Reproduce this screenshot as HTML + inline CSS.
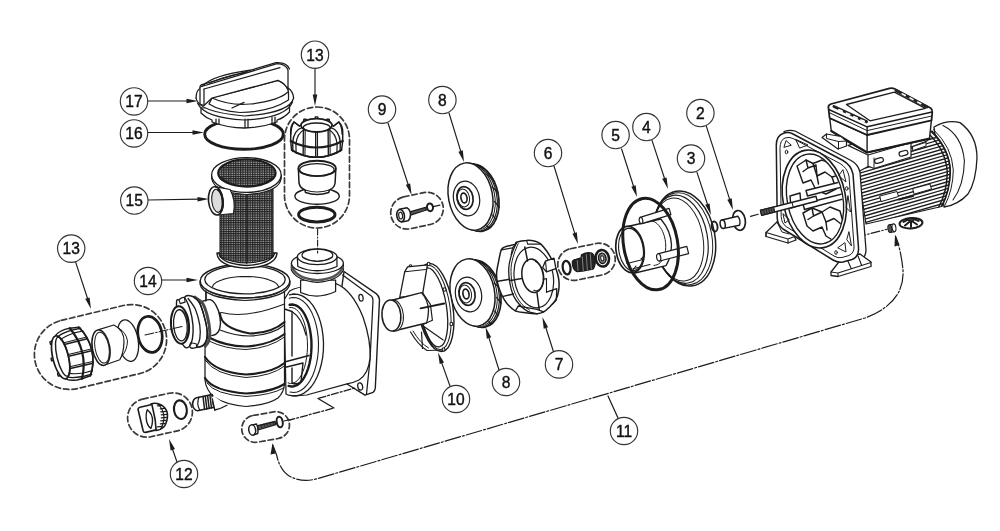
<!DOCTYPE html>
<html><head><meta charset="utf-8"><title>Pump exploded view</title>
<style>
html,body{margin:0;padding:0;background:#fff;}
body{width:1000px;height:531px;overflow:hidden;font-family:"Liberation Sans",sans-serif;}
svg{display:block;}
text{font-family:"Liberation Sans",sans-serif;}
svg{filter:grayscale(1);}
</style></head><body>
<svg width="1000" height="531" viewBox="0 0 1000 531" stroke-linecap="round" stroke-linejoin="round">
<defs>
<pattern id="mesh" width="2.4" height="2.2" patternUnits="userSpaceOnUse">
<rect width="2.4" height="2.2" fill="#b0b0b0"/>
<path d="M0 0.5H2.4M0.6 0V2.2" stroke="#222" stroke-width="1.1"/>
</pattern>
</defs>
<rect width="1000" height="531" fill="#fff"/>
<path d="M344 271.5 L376.2 293.6 Q378.8 295.5 379.5 299.5 L375.3 388 Q375 391 373 392.3 L365 395.2 L347 384 L340 300 Z" fill="#fff" stroke="#1c1c1c" stroke-width="1.4" />
<path d="M342.6 275 L371.6 296.2 Q373 297.6 373 301 L370 360 L366.5 393.8" fill="none" stroke="#1c1c1c" stroke-width="1.25" />
<ellipse cx="361" cy="297.7" rx="2.1" ry="3.4" transform="rotate(-10 361 297.7)" fill="none" stroke="#1c1c1c" stroke-width="1.25" />
<path d="M289.6 291 Q300 285 318 287 L336 283.7 Q352 290 363 317 Q371 340 370 358 Q368.5 374 359 380 Q353 383 347 383.8 L306.7 395 Q290 397 286 394 L284 300 Z" fill="#fff" stroke="#1c1c1c" stroke-width="1.25" />
<path d="M289.5 294.8 L293.6 294.0 L297.7 294.3 L301.7 295.6 L305.6 297.9 L309.3 301.1 L312.7 305.2 L315.7 310.1 L318.3 315.7 L320.4 321.9 L322.0 328.6 L323.0 335.6 L323.5 342.8 L323.4 350.0 L322.7 357.1 L321.4 364.0 L319.6 370.5 L317.3 376.5 L314.6 381.8 L311.4 386.5 L307.9 390.2 L304.1 393.1 L300.2 395.0 L296.1 395.9 L292.0 395.8 " fill="none" stroke="#1c1c1c" stroke-width="1.3" />
<path d="M289.2 298.2 L292.7 297.5 L296.3 297.8 L299.9 299.1 L303.3 301.3 L306.5 304.4 L309.4 308.3 L312.0 313.1 L314.2 318.4 L316.0 324.4 L317.3 330.7 L318.2 337.4 L318.5 344.2 L318.3 351.0 L317.6 357.7 L316.4 364.1 L314.7 370.2 L312.6 375.7 L310.1 380.6 L307.2 384.7 L304.1 388.0 L300.7 390.5 L297.2 392.0 L293.6 392.5 L290.0 392.0 " fill="none" stroke="#1c1c1c" stroke-width="1.1" />
<path d="M289.6 304.8 L292.4 304.5 L295.2 305.1 L297.9 306.4 L300.5 308.6 L302.9 311.5 L305.1 315.2 L307.0 319.4 L308.7 324.2 L309.9 329.4 L310.8 334.9 L311.4 340.7 L311.5 346.6 L311.2 352.4 L310.6 358.1 L309.5 363.6 L308.1 368.6 L306.4 373.2 L304.3 377.3 L302.1 380.6 L299.6 383.3 L296.9 385.2 L294.2 386.2 L291.4 386.5 L288.6 385.9 " fill="none" stroke="#1c1c1c" stroke-width="2.4" />
<path d="M289.6 307.6 L291.9 307.6 L294.2 308.2 L296.5 309.7 L298.6 311.8 L300.6 314.6 L302.4 318.1 L304.0 322.0 L305.3 326.5 L306.3 331.3 L307.0 336.5 L307.4 341.8 L307.5 347.2 L307.2 352.5 L306.6 357.7 L305.7 362.7 L304.5 367.3 L303.0 371.5 L301.3 375.1 L299.4 378.2 L297.3 380.6 L295.1 382.3 L292.8 383.3 L290.5 383.5 L288.1 382.9 " fill="none" stroke="#1c1c1c" stroke-width="1.0" />
<path d="M284.5 309 L292 311.5 L292 356 M284.5 362 L309 355.5 M284.5 367.5 L303 363 M292 368 L292 383 Q296 385 301 382 L303 363" fill="none" stroke="#1c1c1c" stroke-width="1.4" />
<path d="M292 311.5 Q302 318 306 335" fill="none" stroke="#1c1c1c" stroke-width="1.25" />
<ellipse cx="360.2" cy="386.5" rx="2.4" ry="3.7" transform="rotate(-12 360.2 386.5)" fill="none" stroke="#1c1c1c" stroke-width="1.3" />
<path d="M318 398.5 L334 408" fill="none" stroke="#1c1c1c" stroke-width="1.4" />
<path d="M288 420.5 L334 408 M319 398.2 L356 387.7" fill="none" stroke="#1c1c1c" stroke-width="1.3" stroke-dasharray="7 2 2 2"/>
<path d="M300.6 280 L300.6 292.5 Q317 300 335.6 291.5 L335.6 280 Z" fill="#fff" stroke="#1c1c1c" stroke-width="1.25" />
<path d="M291.4 263.5 L291.4 270 Q297 281 317.4 282.3 Q338 281 343.4 270 L343.4 263.5 Z" fill="#fff" stroke="#1c1c1c" stroke-width="1.25" />
<path d="M292 267.5 Q298 279 317.4 280.2 Q337 279 342.8 267.5" fill="none" stroke="#555" stroke-width="2.6" />
<ellipse cx="317.4" cy="263.3" rx="26" ry="10.2" fill="#fff" stroke="#1c1c1c" stroke-width="1.3" />
<path d="M297.3 257 L297.8 267 Q317 274 337 267 L336.9 257 Z" fill="#fff" stroke="none" stroke-width="1.25" />
<path d="M297.3 257 L297.8 266.5 Q317 275 337 266.5 L336.9 257" fill="none" stroke="#1c1c1c" stroke-width="1.25" />
<ellipse cx="317.2" cy="256.8" rx="19.8" ry="7.8" fill="#fff" stroke="#1c1c1c" stroke-width="1.3" />
<ellipse cx="317.4" cy="255.2" rx="15.4" ry="6.1" fill="#fff" stroke="#1c1c1c" stroke-width="1.2" />
<path d="M302.5 257 Q317 266 332.5 257" fill="none" stroke="#1c1c1c" stroke-width="1" />
<path d="M206 286 L206 330 Q205 340 205 358 L205 380 Q206 390 214 397 Q225 404.5 246 406.5 Q268 405 278 398 Q284 392 284.5 384 L284.5 286 Z" fill="#fff" stroke="#1c1c1c" stroke-width="1.25" />
<path d="M221.5 312.5 Q246 319 284.5 304" fill="none" stroke="#1c1c1c" stroke-width="1.1" />
<path d="M220 313 Q220 328 250 333.5 Q272 333 284.5 322" fill="none" stroke="#1c1c1c" stroke-width="2.1" />
<path d="M220 330 Q235 336 250 336 Q272 335 284.5 325" fill="none" stroke="#1c1c1c" stroke-width="1.2" />
<path d="M210 338 Q225 346 246 346.5 Q270 345 284.5 334" fill="none" stroke="#1c1c1c" stroke-width="2.1" />
<path d="M209 341 Q225 349 246 349.5 Q270 348 284.5 337" fill="none" stroke="#1c1c1c" stroke-width="1.0" />
<path d="M205 357 Q215 372 246 374.5 Q272 373 284.5 363" fill="none" stroke="#1c1c1c" stroke-width="2.2" />
<path d="M205 360 Q215 375 246 377.5 Q272 376 284.5 366" fill="none" stroke="#1c1c1c" stroke-width="1.0" />
<path d="M205 378 Q213 391 246 393.5 Q272 392 284.5 384" fill="none" stroke="#1c1c1c" stroke-width="2.2" />
<path d="M207 383 Q215 394.5 246 396.5 Q272 395 283.5 388" fill="none" stroke="#1c1c1c" stroke-width="1.0" />
<path d="M200 281 L200 284 Q203 298 245 300.5 Q287 298 290 284 L290 281 Z" fill="#fff" stroke="#1c1c1c" stroke-width="1.2" />
<ellipse cx="245" cy="281" rx="44.8" ry="17" fill="#fff" stroke="#1c1c1c" stroke-width="1.4" />
<ellipse cx="245" cy="279.6" rx="40.2" ry="14.2" fill="none" stroke="#1c1c1c" stroke-width="1.3" />
<path d="M212.6 286.5 L213.2 285.2 L214.3 283.9 L215.9 282.6 L217.9 281.5 L220.4 280.4 L223.2 279.4 L226.4 278.5 L229.8 277.8 L233.5 277.2 L237.4 276.8 L241.4 276.6 L245.5 276.5 L249.6 276.6 L253.6 276.8 L257.5 277.2 L261.2 277.8 L264.6 278.5 L267.8 279.4 L270.6 280.4 L273.1 281.5 L275.1 282.6 L276.7 283.9 L277.8 285.2 L278.4 286.5 " fill="none" stroke="#1c1c1c" stroke-width="1.1" />
<path d="M206 289 Q212 296.5 245 298 Q278 296.5 284 289" fill="none" stroke="#1c1c1c" stroke-width="1.0" />
<path d="M202.2 301.5 C203.5 301.2 207.8 299.0 210.2 299.7 C212.5 300.4 214.6 302.9 216.3 305.8 C217.9 308.6 219.3 313.1 219.9 316.8 C220.6 320.5 220.6 325.0 219.9 327.8 C219.3 330.7 217.9 332.5 216.3 333.9 C214.6 335.3 211.8 335.3 210.2 336.1 C208.5 336.9 207.1 338.4 206.5 338.8  L200 340 L200 303 Z" fill="#fff" stroke="#1c1c1c" stroke-width="1.4" />
<path d="M184.5 297.8 C185.9 293.7 190.6 295.9 193.0 296.6 C195.5 297.3 197.3 299.0 199.1 302.1 C201.0 305.3 202.7 310.9 204.0 315.6 C205.4 320.3 206.7 326.2 207.1 330.3 C207.5 334.3 207.2 337.5 206.5 340.0 C205.8 342.6 204.4 344.3 202.8 345.6 C201.2 346.8 198.9 347.3 196.7 347.4 C194.5 347.5 191.4 350.4 189.4 346.2 C187.3 341.9 185.3 329.8 184.5 321.7 C183.6 313.6 183.0 302.0 184.5 297.8 Z" fill="#fff" stroke="#1c1c1c" stroke-width="1.4" />
<path d="M194.9 297.2 C196.1 298.3 200.5 300.1 202.6 303.3 C204.7 306.6 206.3 312.1 207.5 316.8 C208.7 321.5 209.6 327.4 209.8 331.5 C210.0 335.6 209.3 338.8 208.6 341.3 C207.8 343.7 205.8 345.3 205.3 346.2 " fill="none" stroke="#4a4a4a" stroke-width="3.0" />
<path d="M193.0 296.6 C194.0 297.5 197.3 299.0 199.1 302.1 C201.0 305.3 202.7 310.9 204.0 315.6 C205.4 320.3 206.7 326.2 207.1 330.3 C207.5 334.3 207.2 337.5 206.5 340.0 C205.8 342.6 204.4 344.3 202.8 345.6 C201.2 346.8 197.7 347.1 196.7 347.4 " fill="none" stroke="#1c1c1c" stroke-width="1.4" />
<path d="M188.1 298.5 C189.4 300.3 193.5 305.0 195.5 309.5 C197.4 314.0 199.0 320.5 199.8 325.4 C200.5 330.3 200.3 335.3 199.8 338.8 C199.2 342.4 197.2 345.4 196.7 346.8 " fill="none" stroke="#1c1c1c" stroke-width="1.3" />
<path d="M176.5 303.3 C176.6 297.6 177.6 300.6 179.0 299.7 C180.3 298.8 182.6 296.2 184.5 297.8 C186.3 299.5 188.5 304.9 190.0 309.5 C191.4 314.1 192.6 320.5 193.0 325.4 C193.4 330.3 193.0 335.4 192.4 338.8 C191.8 342.3 190.7 344.8 189.4 346.2 C188.0 347.5 186.3 348.8 184.5 346.8 C182.6 344.7 179.7 341.2 178.3 333.9 C177.0 326.7 176.4 309.1 176.5 303.3 Z" fill="#fff" stroke="#1c1c1c" stroke-width="1.4" />
<path d="M179.0 299.7 L180.2 303.6 L185.1 302.1 L184.5 297.8 " fill="none" stroke="#1c1c1c" stroke-width="1.1" />
<path d="M189.4 346.2 L190.6 342.7 L196.1 343.7 L196.7 347.4 " fill="none" stroke="#1c1c1c" stroke-width="1.1" />
<ellipse cx="180" cy="325" rx="9" ry="18.7" transform="rotate(-5 180 325)" fill="#fff" stroke="#1c1c1c" stroke-width="2.0" />
<ellipse cx="180.4" cy="325.3" rx="6.8" ry="15.6" transform="rotate(-5 180.4 325.3)" fill="none" stroke="#1c1c1c" stroke-width="1.3" />
<path d="M181.2 310.4 L181.9 310.5 L182.6 310.9 L183.2 311.3 L183.9 312.0 L184.5 312.8 L185.1 313.7 L185.7 314.8 L186.2 315.9 L186.6 317.2 L187.1 318.6 L187.4 320.0 L187.7 321.5 L188.0 323.1 L188.2 324.7 L188.3 326.2 L188.3 327.8 L188.3 329.3 L188.2 330.8 L188.0 332.3 L187.8 333.6 L187.5 334.9 L187.1 336.0 L186.7 337.1 L186.2 338.0 " fill="none" stroke="#1c1c1c" stroke-width="1.0" />
<line x1="205.9" y1="291" x2="205.9" y2="301" stroke="#1c1c1c" stroke-width="1.3" />
<path d="M196.5 397.8 L212 394.5 L214 407.3 L197.5 410.7 Q193.3 410 192.6 404.5 Q192.8 398.8 196.5 397.8 Z" fill="#fff" stroke="#1c1c1c" stroke-width="1.6" />
<path d="M199 397.3 Q196.2 403.5 199.8 410.2" fill="none" stroke="#1c1c1c" stroke-width="1.2" />
<line x1="203" y1="396.6" x2="204.6" y2="409.5" stroke="#1c1c1c" stroke-width="1.5" />
<line x1="205.3" y1="396.14000000000004" x2="206.9" y2="409.04" stroke="#1c1c1c" stroke-width="1.5" />
<line x1="207.6" y1="395.68" x2="209.2" y2="408.58" stroke="#1c1c1c" stroke-width="1.5" />
<line x1="209.9" y1="395.22" x2="211.5" y2="408.12" stroke="#1c1c1c" stroke-width="1.5" />
<line x1="212.2" y1="394.76000000000005" x2="213.79999999999998" y2="407.66" stroke="#1c1c1c" stroke-width="1.5" />
<path d="M212 397 L214.8 410 Q220 409 226 405 L214 396 Z" fill="#fff" stroke="none" stroke-width="1.25" />
<path d="M214.8 410 Q221 408.5 227 405.2" fill="none" stroke="#1c1c1c" stroke-width="1.3" />
<path d="M212.3 399 L214.8 410" fill="none" stroke="#1c1c1c" stroke-width="1.3" />
<line x1="145" y1="335" x2="182" y2="326.5" stroke="#1c1c1c" stroke-width="1.1" stroke-dasharray="9 2 1.5 2"/>
<ellipse cx="244" cy="134.3" rx="39.3" ry="15" fill="none" stroke="#1c1c1c" stroke-width="2.9" />
<path d="M201 108 L201 113 Q206 118 212 120 L212 122 Q244 134 277 122 L277 120 Q284 118 289.5 112 L289.5 105 Z" fill="#fff" stroke="#1c1c1c" stroke-width="1.25" />
<line x1="216" y1="119" x2="216" y2="124" stroke="#1c1c1c" stroke-width="1.25" />
<line x1="219" y1="119" x2="219" y2="124" stroke="#1c1c1c" stroke-width="1.25" />
<line x1="245" y1="119" x2="245" y2="127.5" stroke="#1c1c1c" stroke-width="1.25" />
<line x1="248" y1="119" x2="248" y2="127.5" stroke="#1c1c1c" stroke-width="1.25" />
<line x1="272" y1="117" x2="272" y2="124" stroke="#1c1c1c" stroke-width="1.25" />
<line x1="275" y1="117" x2="275" y2="124" stroke="#1c1c1c" stroke-width="1.25" />
<path d="M196 98 Q196 90 201 88 L201 100 M293.6 98 Q293 91 288 88" fill="none" stroke="#1c1c1c" stroke-width="1.25" />
<path d="M196 98 Q198 112 244.5 116 Q290 113 293.6 98" fill="#fff" stroke="#1c1c1c" stroke-width="1.25" />
<path d="M197.5 103 Q204 118 244.5 120 Q286 118 292.5 102" fill="none" stroke="#1c1c1c" stroke-width="1.25" />
<path d="M209 104 Q212 98 212 98 L278 80.4 Q288 84 288.5 92 L288.5 100 Q270 112 240 112.5 Q220 111 209 104 Z" fill="#fff" stroke="#1c1c1c" stroke-width="1.25" />
<path d="M212 98 Q230 106 250 104 Q278 101 288 92" fill="none" stroke="#1c1c1c" stroke-width="1.25" />
<path d="M232 108 L244 102.4" fill="none" stroke="#1c1c1c" stroke-width="1.25" />
<path d="M202.5 86 Q212 75.5 250 70.2" fill="none" stroke="#1c1c1c" stroke-width="1.2" />
<path d="M205.5 86.5 Q215 77.5 246 72.5" fill="none" stroke="#1c1c1c" stroke-width="1.0" />
<path d="M200 87 L200 104 L204 105.5 L212 98 L278 80.4 Q286 84 288 90 L288 70 Q286 64 277 63.6 Z" fill="#fff" stroke="#1c1c1c" stroke-width="1.25" />
<path d="M202 84.6 L276 62.6 Q287 62 289.5 69" fill="none" stroke="#1c1c1c" stroke-width="1.25" />
<path d="M204 89 L280 67.6" fill="none" stroke="#1c1c1c" stroke-width="1.25" />
<path d="M204 89 L204 105" fill="none" stroke="#1c1c1c" stroke-width="1.25" />
<path d="M200 87 Q200 85 202 84.6" fill="none" stroke="#1c1c1c" stroke-width="1.25" />
<path d="M217 253 Q217.5 266.5 246.5 268.3 Q276 266.5 277 253 L273 253 L220 253 Z" fill="#fff" stroke="#1c1c1c" stroke-width="1.4" />
<path d="M220 185 L220 257 Q246.5 269 273 257 L273 185 Z" fill="url(#mesh)" stroke="#1c1c1c" stroke-width="1.1" />
<path d="M219 253.5 Q222 264 246.5 265.5 Q271 264 274.5 253.5" fill="none" stroke="#1c1c1c" stroke-width="1.4" />
<line x1="246.8" y1="186" x2="246.8" y2="264" stroke="#1c1c1c" stroke-width="1.0" />
<path d="M211.7 175 L211.7 178.5 Q214 192.5 246.4 194.5 Q279 192.5 281.2 178.5 L281.2 175 Z" fill="#fff" stroke="#1c1c1c" stroke-width="1.2" />
<ellipse cx="246.4" cy="175" rx="34.8" ry="17.4" fill="#fff" stroke="#1c1c1c" stroke-width="1.3" />
<ellipse cx="246.9" cy="173" rx="28.8" ry="13.7" fill="url(#mesh)" stroke="#1c1c1c" stroke-width="2.0" />
<path d="M272.0 177.5 L271.1 178.7 L270.0 179.8 L268.5 180.9 L266.8 181.9 L264.9 182.8 L262.7 183.6 L260.4 184.3 L257.9 184.9 L255.3 185.4 L252.5 185.7 L249.7 185.9 L246.9 186.0 L244.1 185.9 L241.3 185.7 L238.5 185.4 L235.9 184.9 L233.4 184.3 L231.1 183.6 L228.9 182.8 L227.0 181.9 L225.3 180.9 L223.8 179.8 L222.7 178.7 L221.8 177.5 " fill="none" stroke="#1c1c1c" stroke-width="1.2" />
<path d="M216 186.8 L230 189.5 Q236 200 233.5 213.5 L218 215 Z" fill="#fff" stroke="#1c1c1c" stroke-width="1.2" />
<ellipse cx="215.8" cy="200.8" rx="7.3" ry="14.2" transform="rotate(-6 215.8 200.8)" fill="#fff" stroke="#1c1c1c" stroke-width="1.6" />
<ellipse cx="217" cy="200.8" rx="5.2" ry="11.6" transform="rotate(-6 217 200.8)" fill="#ddd" stroke="#1c1c1c" stroke-width="1.1" />
<path d="M218.1 190.0 L218.6 190.2 L219.1 190.6 L219.6 191.1 L220.1 191.8 L220.5 192.5 L221.0 193.4 L221.4 194.4 L221.7 195.5 L222.0 196.6 L222.3 197.8 L222.5 199.1 L222.7 200.4 L222.8 201.6 L222.8 202.9 L222.8 204.1 L222.7 205.3 L222.6 206.4 L222.4 207.5 L222.2 208.5 L221.9 209.3 L221.6 210.1 L221.2 210.7 L220.8 211.2 L220.4 211.5 " fill="none" stroke="#1c1c1c" stroke-width="2.0" />
<rect x="284.5" y="107" width="65" height="121" rx="32.5" ry="32.5" fill="none" stroke="#3a3a3a" stroke-width="1.7" stroke-dasharray="5.5 3"/>
<path d="M294 122 Q290.3 126 290.7 133 L290.7 141 L291.6 150 Q303 157.2 316.5 157.3 Q330 157.2 341.6 150 L342.7 141 L342.7 133 Q343 126 338.7 122 L333.5 126 Q316.5 112.75999999999999 299.5 126 Z" fill="#fff" stroke="#1c1c1c" stroke-width="1.5" />
<path d="M303.3 122.3 L303.8 119.3 L306.2 119.3 L306.7 122.3" fill="none" stroke="#1c1c1c" stroke-width="1.4" />
<path d="M314.8 119.9 L315.3 116.9 L317.7 116.9 L318.2 119.9" fill="none" stroke="#1c1c1c" stroke-width="1.4" />
<path d="M326.3 122.3 L326.8 119.3 L329.2 119.3 L329.7 122.3" fill="none" stroke="#1c1c1c" stroke-width="1.4" />
<ellipse cx="316.5" cy="125.3" rx="15.5" ry="6.6" fill="#fff" stroke="#1c1c1c" stroke-width="1.7" />
<ellipse cx="316.7" cy="127.5" rx="13.5" ry="4.5" fill="none" stroke="#1c1c1c" stroke-width="1.4" />
<path d="M290.7 141 Q303 147.5 316.5 147.5 Q330 147.5 342.7 141" fill="none" stroke="#1c1c1c" stroke-width="2.2" />
<line x1="303.40000000000003" y1="129.67107489251146" x2="303.15600000000006" y2="155.4" stroke="#1c1c1c" stroke-width="1.4" />
<line x1="305.2" y1="129.67107489251146" x2="304.956" y2="155.4" stroke="#1c1c1c" stroke-width="1.1" />
<line x1="315.70000000000005" y1="132.19986264165078" x2="315.70200000000006" y2="157" stroke="#1c1c1c" stroke-width="1.4" />
<line x1="317.5" y1="132.19986264165078" x2="317.502" y2="157" stroke="#1c1c1c" stroke-width="1.1" />
<line x1="328.1" y1="129.50258059183338" x2="328.35" y2="155.4" stroke="#1c1c1c" stroke-width="1.4" />
<line x1="329.9" y1="129.50258059183338" x2="330.15" y2="155.4" stroke="#1c1c1c" stroke-width="1.1" />
<path d="M302.1 127.6 Q293.5 130.3 292.7 142.6 L292.9 151.6" fill="none" stroke="#1c1c1c" stroke-width="1.4" />
<path d="M304.4 129.5 Q297.0 133.3 295.9 144 L296.1 153.2" fill="none" stroke="#1c1c1c" stroke-width="1.2" />
<path d="M294.0 122 L299.5 126.3 M294.0 122 Q291.0 127 290.9 134" fill="none" stroke="#1c1c1c" stroke-width="1.4" />
<path d="M330.9 127.6 Q339.5 130.3 340.3 142.6 L340.1 151.6" fill="none" stroke="#1c1c1c" stroke-width="1.4" />
<path d="M328.6 129.5 Q336.0 133.3 337.1 144 L336.9 153.2" fill="none" stroke="#1c1c1c" stroke-width="1.2" />
<path d="M339.0 122 L333.5 126.3 M339.0 122 Q342.0 127 342.1 134" fill="none" stroke="#1c1c1c" stroke-width="1.4" />
<path d="M291.6 150 Q303 157.2 316.5 157.3 Q330 157.2 341.6 150" fill="none" stroke="#1c1c1c" stroke-width="1.6" />
<ellipse cx="317.1" cy="196.2" rx="22.2" ry="8.1" fill="#fff" stroke="#1c1c1c" stroke-width="1.4" />
<path d="M298.4 169 L299 183 Q300 188 305 190 L305.5 192.5 Q317 196.5 328.8 192.5 L329.3 190 Q334.3 188 335.1 183 L335.8 169 Z" fill="#fff" stroke="#1c1c1c" stroke-width="1.5" />
<path d="M305 190 Q317 194 329.3 190" fill="none" stroke="#1c1c1c" stroke-width="1.2" />
<ellipse cx="317.1" cy="168.4" rx="18.7" ry="7.7" fill="#fff" stroke="#1c1c1c" stroke-width="1.9" />
<ellipse cx="316.9" cy="169.8" rx="17.2" ry="6.2" fill="none" stroke="#1c1c1c" stroke-width="1.2" />
<ellipse cx="316.8" cy="214.6" rx="18.2" ry="7.3" fill="none" stroke="#1c1c1c" stroke-width="3.0" />
<line x1="317.6" y1="229" x2="317.6" y2="253" stroke="#1c1c1c" stroke-width="1.1" stroke-dasharray="6 2 1 2"/>
<ellipse cx="150" cy="334.4" rx="12" ry="18.2" transform="rotate(-10 150 334.4)" fill="none" stroke="#1c1c1c" stroke-width="2.7" />
<ellipse cx="127.8" cy="340.6" rx="10.3" ry="21" transform="rotate(-10 127.8 340.6)" fill="#fff" stroke="#1c1c1c" stroke-width="1.3" />
<path d="M98.7 329.6 L113.8 325 Q124.5 330 124 342 Q123.5 354 119.8 359.7 L104.8 365 Z" fill="#fff" stroke="#1c1c1c" stroke-width="1.2" />
<path d="M119 328.5 Q126 332 127.5 341 Q127 350 122.5 355.5" fill="none" stroke="#1c1c1c" stroke-width="1.0" />
<ellipse cx="101" cy="347.7" rx="8.7" ry="17.9" transform="rotate(-10 101 347.7)" fill="#fff" stroke="#1c1c1c" stroke-width="1.5" />
<ellipse cx="102" cy="347.7" rx="7" ry="15.6" transform="rotate(-10 102 347.7)" fill="none" stroke="#1c1c1c" stroke-width="1.0" />
<g transform="translate(72.5 354.5) rotate(-103.5) translate(-316.5 -137.5)">
<path d="M294.5 125.3 Q291.5 127.3 290.7 136 L290.7 141 L291.6 150 Q303 157.2 316.5 157.3 Q330 157.2 341.6 150 L342.7 141 L342.7 136 Q341.5 127.3 338.5 125.3 Q316.5 110.48 294.5 125.3 Z" fill="#fff" stroke="#1c1c1c" stroke-width="1.5" />
<path d="M298.5 121.5 L299.0 118.5 L301.4 118.5 L301.9 121.5" fill="none" stroke="#1c1c1c" stroke-width="1.4" />
<path d="M314.8 118.7 L315.3 115.7 L317.7 115.7 L318.2 118.7" fill="none" stroke="#1c1c1c" stroke-width="1.4" />
<path d="M331.1 121.5 L331.6 118.5 L334.0 118.5 L334.5 121.5" fill="none" stroke="#1c1c1c" stroke-width="1.4" />
<ellipse cx="316.5" cy="125.3" rx="22" ry="7.8" fill="#fff" stroke="#1c1c1c" stroke-width="1.7" />
<ellipse cx="316.7" cy="127.5" rx="20" ry="5.699999999999999" fill="none" stroke="#1c1c1c" stroke-width="1.4" />
<path d="M290.7 141 Q303 147.5 316.5 147.5 Q330 147.5 342.7 141" fill="none" stroke="#1c1c1c" stroke-width="2.2" />
<line x1="303.40000000000003" y1="132.09079679047238" x2="303.15600000000006" y2="155.4" stroke="#1c1c1c" stroke-width="1.4" />
<line x1="305.2" y1="132.09079679047238" x2="304.956" y2="155.4" stroke="#1c1c1c" stroke-width="1.1" />
<line x1="315.70000000000005" y1="133.3999194210714" x2="315.70200000000006" y2="157" stroke="#1c1c1c" stroke-width="1.4" />
<line x1="317.5" y1="133.3999194210714" x2="317.502" y2="157" stroke="#1c1c1c" stroke-width="1.1" />
<line x1="328.1" y1="132.01864375108215" x2="328.35" y2="155.4" stroke="#1c1c1c" stroke-width="1.4" />
<line x1="329.9" y1="132.01864375108215" x2="330.15" y2="155.4" stroke="#1c1c1c" stroke-width="1.1" />
<path d="M296.0 127.6 Q293.5 130.3 292.7 142.6 L292.9 151.6" fill="none" stroke="#1c1c1c" stroke-width="1.4" />
<path d="M299.3 129.5 Q297.0 133.3 295.9 144 L296.1 153.2" fill="none" stroke="#1c1c1c" stroke-width="1.2" />
<path d="M337.0 127.6 Q339.5 130.3 340.3 142.6 L340.1 151.6" fill="none" stroke="#1c1c1c" stroke-width="1.4" />
<path d="M333.7 129.5 Q336.0 133.3 337.1 144 L336.9 153.2" fill="none" stroke="#1c1c1c" stroke-width="1.2" />
<path d="M291.6 150 Q303 157.2 316.5 157.3 Q330 157.2 341.6 150" fill="none" stroke="#1c1c1c" stroke-width="1.6" />
</g>
<ellipse cx="180.4" cy="409.7" rx="6.4" ry="9.4" transform="rotate(-8 180.4 409.7)" fill="none" stroke="#1c1c1c" stroke-width="2.1" />
<path d="M150.9 404 Q155 402.5 160.2 404.5 Q166.5 407.5 167.5 414 Q167.8 421 164.4 426.3 Q161 430 156 430.6 Z" fill="#fff" stroke="#1c1c1c" stroke-width="1.5" />
<line x1="157.45" y1="405.8" x2="162.025" y2="405.40000000000003" stroke="#1c1c1c" stroke-width="1.2" />
<line x1="160.25" y1="408.8" x2="165.175" y2="408.40000000000003" stroke="#1c1c1c" stroke-width="1.2" />
<line x1="160.75" y1="411.8" x2="166.025" y2="411.40000000000003" stroke="#1c1c1c" stroke-width="1.2" />
<line x1="161.25" y1="414.8" x2="166.875" y2="414.40000000000003" stroke="#1c1c1c" stroke-width="1.2" />
<line x1="161.25" y1="417.8" x2="166.875" y2="417.40000000000003" stroke="#1c1c1c" stroke-width="1.2" />
<line x1="160.75" y1="420.8" x2="166.025" y2="420.40000000000003" stroke="#1c1c1c" stroke-width="1.2" />
<line x1="160.25" y1="423.8" x2="165.175" y2="423.40000000000003" stroke="#1c1c1c" stroke-width="1.2" />
<line x1="157.45" y1="426.8" x2="162.025" y2="426.40000000000003" stroke="#1c1c1c" stroke-width="1.2" />
<path d="M157.5 403.6 Q163.5 409 164 417 Q163.8 424 160.5 429.3" fill="none" stroke="#1c1c1c" stroke-width="1.2" />
<path d="M138 409.2 Q138.3 407.8 140 407.3 L151.9 404.5 Q153.6 412 155.2 420 L156.1 429.9 L145.6 432.4 Q143.7 432.6 143.2 431 Z" fill="#fff" stroke="#1c1c1c" stroke-width="1.6" />
<path d="M147.3 409.7 Q152.8 414 152.5 421 Q152.2 426 150.9 428.3 M147.3 409.7 Q145.2 415 146.8 422 Q148.3 427 150.9 428.3" fill="none" stroke="#1c1c1c" stroke-width="1.4" />
<ellipse cx="279.7" cy="422" rx="3" ry="5.3" transform="rotate(-10 279.7 422)" fill="none" stroke="#1c1c1c" stroke-width="2.0" />
<path d="M257 426 L275 421.3 L275.8 424.6 L258 430 Z" fill="#555" stroke="#1c1c1c" stroke-width="1.3" />
<line x1="261" y1="424.52000000000004" x2="261.8" y2="427.76000000000005" stroke="#1c1c1c" stroke-width="0.7" stroke="#ddd"/>
<line x1="264" y1="423.74" x2="264.8" y2="426.92" stroke="#1c1c1c" stroke-width="0.7" stroke="#ddd"/>
<line x1="267" y1="422.96000000000004" x2="267.8" y2="426.08000000000004" stroke="#1c1c1c" stroke-width="0.7" stroke="#ddd"/>
<line x1="270" y1="422.18" x2="270.8" y2="425.24" stroke="#1c1c1c" stroke-width="0.7" stroke="#ddd"/>
<line x1="273" y1="421.40000000000003" x2="273.8" y2="424.40000000000003" stroke="#1c1c1c" stroke-width="0.7" stroke="#ddd"/>
<path d="M251.8 425 L256.5 424 Q258.5 428 257.8 433.5 L253.5 435 Z" fill="#fff" stroke="#1c1c1c" stroke-width="1.4" />
<ellipse cx="252.2" cy="430" rx="3.4" ry="5.2" transform="rotate(-10 252.2 430)" fill="#fff" stroke="#1c1c1c" stroke-width="1.5" />
<line x1="284" y1="421" x2="290" y2="419.5" stroke="#1c1c1c" stroke-width="1.2" />
<path d="M409 212.2 L425.6 207.3 L426.4 210 L409.8 215.3 Z" fill="#555" stroke="#1c1c1c" stroke-width="1.3" />
<path d="M399.5 209.3 L407 207.8 Q410.5 210 410.5 214.5 Q410.5 219 408 220.8 L401.5 222 Z" fill="#fff" stroke="#1c1c1c" stroke-width="1.5" />
<ellipse cx="400.6" cy="215.6" rx="3.8" ry="6.2" transform="rotate(-8 400.6 215.6)" fill="#fff" stroke="#1c1c1c" stroke-width="1.6" />
<ellipse cx="400.6" cy="215.6" rx="1.9" ry="3.4" transform="rotate(-8 400.6 215.6)" fill="none" stroke="#1c1c1c" stroke-width="1.2" />
<ellipse cx="430" cy="207.3" rx="3" ry="3.9" transform="rotate(-8 430 207.3)" fill="none" stroke="#1c1c1c" stroke-width="2.0" />
<line x1="433.4" y1="206.6" x2="439.9" y2="205.2" stroke="#1c1c1c" stroke-width="1.3" />
<ellipse cx="476.5" cy="197.7" rx="22" ry="34" transform="rotate(-11 476.5 197.7)" fill="#fff" stroke="#1c1c1c" stroke-width="1.7" />
<ellipse cx="474.8" cy="197.4" rx="22" ry="34" transform="rotate(-11 474.8 197.4)" fill="#fff" stroke="#1c1c1c" stroke-width="1.2" />
<ellipse cx="472.7" cy="197.0" rx="22" ry="34" transform="rotate(-11 472.7 197.0)" fill="#fff" stroke="#1c1c1c" stroke-width="1.0" />
<line x1="477.2" y1="165.8" x2="484.7" y2="168.8" stroke="#1c1c1c" stroke-width="1.3" />
<line x1="486.0" y1="174.2" x2="492.8" y2="178.8" stroke="#1c1c1c" stroke-width="1.3" />
<line x1="492.1" y1="186.9" x2="497.9" y2="192.3" stroke="#1c1c1c" stroke-width="1.3" />
<line x1="494.5" y1="201.4" x2="498.9" y2="206.9" stroke="#1c1c1c" stroke-width="1.3" />
<line x1="492.7" y1="215.0" x2="495.8" y2="219.7" stroke="#1c1c1c" stroke-width="1.3" />
<line x1="487.0" y1="225.3" x2="489.0" y2="228.4" stroke="#1c1c1c" stroke-width="1.3" />
<ellipse cx="470.5" cy="196.5" rx="22" ry="34" transform="rotate(-11 470.5 196.5)" fill="#fff" stroke="#1c1c1c" stroke-width="1.5" />
<ellipse cx="466.5" cy="198.5" rx="13" ry="17.5" transform="rotate(-11 466.5 198.5)" fill="none" stroke="#1c1c1c" stroke-width="1.2" />
<ellipse cx="465.0" cy="198.0" rx="8" ry="11.5" transform="rotate(-11 465.0 198.0)" fill="#fff" stroke="#1c1c1c" stroke-width="1.7" />
<ellipse cx="463.5" cy="198.0" rx="6" ry="9" transform="rotate(-11 463.5 198.0)" fill="none" stroke="#1c1c1c" stroke-width="1.0" />
<ellipse cx="464.0" cy="198.0" rx="3" ry="5" transform="rotate(-11 464.0 198.0)" fill="none" stroke="#1c1c1c" stroke-width="1.7" />
<ellipse cx="478.5" cy="293.7" rx="22" ry="34" transform="rotate(-11 478.5 293.7)" fill="#fff" stroke="#1c1c1c" stroke-width="1.7" />
<ellipse cx="476.8" cy="293.4" rx="22" ry="34" transform="rotate(-11 476.8 293.4)" fill="#fff" stroke="#1c1c1c" stroke-width="1.2" />
<ellipse cx="474.7" cy="293.0" rx="22" ry="34" transform="rotate(-11 474.7 293.0)" fill="#fff" stroke="#1c1c1c" stroke-width="1.0" />
<line x1="479.2" y1="261.8" x2="486.7" y2="264.8" stroke="#1c1c1c" stroke-width="1.3" />
<line x1="488.0" y1="270.2" x2="494.8" y2="274.8" stroke="#1c1c1c" stroke-width="1.3" />
<line x1="494.1" y1="282.9" x2="499.9" y2="288.3" stroke="#1c1c1c" stroke-width="1.3" />
<line x1="496.5" y1="297.4" x2="500.9" y2="302.9" stroke="#1c1c1c" stroke-width="1.3" />
<line x1="494.7" y1="311.0" x2="497.8" y2="315.7" stroke="#1c1c1c" stroke-width="1.3" />
<line x1="489.0" y1="321.3" x2="491.0" y2="324.4" stroke="#1c1c1c" stroke-width="1.3" />
<ellipse cx="472.5" cy="292.5" rx="22" ry="34" transform="rotate(-11 472.5 292.5)" fill="#fff" stroke="#1c1c1c" stroke-width="1.5" />
<ellipse cx="468.5" cy="294.5" rx="13" ry="17.5" transform="rotate(-11 468.5 294.5)" fill="none" stroke="#1c1c1c" stroke-width="1.2" />
<ellipse cx="467.0" cy="294.0" rx="8" ry="11.5" transform="rotate(-11 467.0 294.0)" fill="#fff" stroke="#1c1c1c" stroke-width="1.7" />
<ellipse cx="465.5" cy="294.0" rx="6" ry="9" transform="rotate(-11 465.5 294.0)" fill="none" stroke="#1c1c1c" stroke-width="1.0" />
<ellipse cx="466.0" cy="294.0" rx="3" ry="5" transform="rotate(-11 466.0 294.0)" fill="none" stroke="#1c1c1c" stroke-width="1.7" />
<ellipse cx="435.3" cy="307.4" rx="17.5" ry="44.5" transform="rotate(-9 435.3 307.4)" fill="#fff" stroke="#1c1c1c" stroke-width="1.4" />
<ellipse cx="434.3" cy="307.4" rx="15.6" ry="42.5" transform="rotate(-9 434.3 307.4)" fill="none" stroke="#1c1c1c" stroke-width="1.0" />
<ellipse cx="433" cy="307.4" rx="13.5" ry="40" transform="rotate(-9 433 307.4)" fill="none" stroke="#1c1c1c" stroke-width="1.3" />
<ellipse cx="444.5" cy="289.5" rx="1.4" ry="1.8" fill="#fff" stroke="#1c1c1c" stroke-width="1.1" />
<ellipse cx="451.3" cy="324" rx="1.4" ry="1.8" fill="#fff" stroke="#1c1c1c" stroke-width="1.1" />
<ellipse cx="443.5" cy="349.5" rx="1.4" ry="1.8" fill="#fff" stroke="#1c1c1c" stroke-width="1.1" />
<ellipse cx="410.5" cy="266.5" rx="1.4" ry="1.8" fill="#fff" stroke="#1c1c1c" stroke-width="1.1" />
<ellipse cx="428.6" cy="264" rx="1.4" ry="1.8" fill="#fff" stroke="#1c1c1c" stroke-width="1.1" />
<path d="M399.7 297.5 L404.7 271.8 L407.6 266.9 L427.4 264.9 L422.5 294.6 Z" fill="#fff" stroke="#1c1c1c" stroke-width="1.3" />
<path d="M404.7 271.8 L425.5 269.5" fill="none" stroke="#1c1c1c" stroke-width="1.0" />
<path d="M422.5 292.6 L430.4 304.4 L432.4 320.3 L424 324 Z" fill="#fff" stroke="#1c1c1c" stroke-width="1.2" />
<path d="M423.5 326.2 L443.2 340 M421.5 332 L422.5 348.5 M423.5 326.2 L432 346" fill="none" stroke="#1c1c1c" stroke-width="1.2" />
<path d="M410.6 332 Q418 345 427 350.5 L443 350" fill="none" stroke="#1c1c1c" stroke-width="1.2" />
<path d="M413 331 Q420 343 428.5 348" fill="none" stroke="#1c1c1c" stroke-width="1.0" />
<path d="M392.8 300 L421.5 292.6 Q428 300 428.5 310 Q428 320 426.4 323 L393.8 331 Z" fill="#fff" stroke="#1c1c1c" stroke-width="1.3" />
<ellipse cx="394" cy="315.5" rx="9.4" ry="15.6" transform="rotate(-5 394 315.5)" fill="#fff" stroke="#1c1c1c" stroke-width="1.0" />
<ellipse cx="391.4" cy="315.5" rx="9.4" ry="15.6" transform="rotate(-5 391.4 315.5)" fill="#fff" stroke="#1c1c1c" stroke-width="1.5" />
<line x1="420.5" y1="308.4" x2="444.2" y2="303.5" stroke="#1c1c1c" stroke-width="1.9" />
<path d="M501.3 249.8 C502.4 247.3 502.7 247.9 505.1 246.9 C507.4 246.0 513.5 244.9 515.4 244.1 C517.3 243.3 514.5 242.9 516.4 242.2 C518.2 241.6 523.6 240.5 526.7 240.4 C529.8 240.2 532.8 240.7 535.2 241.3 C537.5 241.9 538.9 242.5 540.8 244.1 C542.7 245.7 544.6 248.0 546.5 250.7 C548.4 253.4 550.5 257.1 552.1 260.1 C553.7 263.1 554.8 265.5 555.9 268.6 C557.0 271.7 558.2 275.3 558.7 278.9 C559.2 282.5 559.2 286.8 558.7 290.2 C558.2 293.7 557.5 296.8 555.9 299.6 C554.3 302.5 551.3 305.1 549.3 307.2 C547.3 309.2 545.7 310.8 543.6 311.9 C541.6 313.0 540.0 313.6 537.1 313.8 C534.1 313.9 529.4 313.3 525.8 312.8 C522.2 312.4 518.5 312.5 515.4 310.9 C512.3 309.4 509.3 306.2 506.9 303.4 C504.6 300.6 502.9 297.5 501.3 294.0 C499.7 290.5 498.3 286.2 497.5 282.7 C496.7 279.3 496.4 276.7 496.6 273.3 C496.7 269.8 497.7 265.9 498.5 262.0 C499.3 258.1 500.2 252.3 501.3 249.8 Z" fill="#fff" stroke="#1c1c1c" stroke-width="1.5" />
<path d="M516.4 242.8 C515.6 244.7 512.9 250.3 511.6 254.5 C510.4 258.6 509.1 262.9 508.8 267.6 C508.5 272.4 509.0 278.0 509.8 282.7 C510.5 287.4 511.8 292.1 513.5 295.9 C515.3 299.6 517.8 302.7 520.1 305.3 C522.5 307.9 524.8 309.9 527.6 311.3 C530.5 312.7 535.5 313.4 537.1 313.8 " fill="none" stroke="#1c1c1c" stroke-width="1.3" />
<path d="M518.2 243.6 C517.5 245.4 515.1 250.5 513.9 254.5 C512.7 258.5 511.4 262.9 511.1 267.6 C510.8 272.4 511.2 278.2 512.0 282.7 C512.8 287.3 514.1 291.3 515.8 294.9 C517.5 298.5 519.7 301.8 522.0 304.4 C524.3 306.9 528.3 309.1 529.5 310.0 " fill="none" stroke="#1c1c1c" stroke-width="1.0" />
<ellipse cx="533.8" cy="277.5" rx="19.5" ry="30.5" transform="rotate(-9 533.8 277.5)" fill="none" stroke="#1c1c1c" stroke-width="1.2" />
<ellipse cx="532.6" cy="275.8" rx="10.6" ry="16.8" transform="rotate(-9 532.6 275.8)" fill="#fff" stroke="#1c1c1c" stroke-width="1.5" />
<path d="M535.4 261.4 L536.6 262.0 L537.8 262.9 L538.9 263.9 L539.9 265.2 L540.8 266.7 L541.7 268.3 L542.4 270.0 L542.9 271.8 L543.4 273.7 L543.7 275.7 L543.8 277.6 L543.8 279.5 L543.6 281.4 L543.2 283.1 L542.7 284.8 L542.1 286.2 L541.4 287.5 L540.5 288.6 L539.5 289.5 L538.5 290.1 L537.3 290.5 L536.2 290.7 L535.0 290.6 L533.8 290.2 " fill="none" stroke="#1c1c1c" stroke-width="1.1" />
<path d="M524.8 247 L527.6 261 M537 293 L539.3 310 M510.7 280.4 L521.5 278.6" fill="none" stroke="#1c1c1c" stroke-width="1.5" />
<path d="M542.7 267.6 L545.5 261.1 L554.0 258.2 L555.9 268.6 L546.5 271.8 Z" fill="#fff" stroke="#1c1c1c" stroke-width="1.3" />
<path d="M545.5 261.1 L546.5 271.8 " fill="none" stroke="#1c1c1c" stroke-width="1.1" />
<path d="M546.5 292.1 L556.8 288.7 L556.3 300.0 L552.1 304.4 " fill="none" stroke="#1c1c1c" stroke-width="1.3" />
<path d="M543.3 279.3 L546.5 278.6 L546.5 292.1 " fill="none" stroke="#1c1c1c" stroke-width="1.1" />
<path d="M501.3 249.8 L512.6 247.9 L515.4 244.1 " fill="none" stroke="#1c1c1c" stroke-width="1.3" />
<path d="M512.6 247.9 L511.1 254.5 " fill="none" stroke="#1c1c1c" stroke-width="1.1" />
<path d="M497.9 281.2 L509.8 279.3 " fill="none" stroke="#1c1c1c" stroke-width="1.4" />
<path d="M503.2 296.3 L513.5 294.0 " fill="none" stroke="#1c1c1c" stroke-width="1.3" />
<path d="M515.4 310.9 L518.2 306.2 L537.1 309.4 L543.6 311.9 " fill="none" stroke="#1c1c1c" stroke-width="1.3" />
<path d="M518.2 306.2 L520.1 304.9 " fill="none" stroke="#1c1c1c" stroke-width="1.1" />
<path d="M526.7 240.4 L527.6 244.1 L540.8 244.1 " fill="none" stroke="#1c1c1c" stroke-width="1.1" />
<ellipse cx="566.6" cy="267.6" rx="3.9" ry="6.8" transform="rotate(-8 566.6 267.6)" fill="none" stroke="#1c1c1c" stroke-width="2.3" />
<path d="M572.3 262 Q573 259.5 576 259.3 L581 258 L581.5 254.8 Q587 251.8 592 253.2 Q595.5 256 595.3 262 Q595 267 593 269 L582.5 271 L577 271.6 Q572.5 270 572.3 262 Z" fill="#222" stroke="#1c1c1c" stroke-width="1.3" />
<path d="M577.3 260.5 L578 270.5 M582.3 257 L583.3 270.5 M586.3 254.5 L587.3 269.8 M590.3 254 L591.3 269" fill="none" stroke="#999" stroke-width="0.8" />
<ellipse cx="602.3" cy="258.3" rx="6.6" ry="8.3" transform="rotate(-10 602.3 258.3)" fill="#fff" stroke="#1c1c1c" stroke-width="2.6" />
<ellipse cx="602.3" cy="258.3" rx="3.7" ry="5.2" transform="rotate(-10 602.3 258.3)" fill="#888" stroke="#1c1c1c" stroke-width="1.5" />
<ellipse cx="602.3" cy="258.3" rx="1.5" ry="2.6" transform="rotate(-10 602.3 258.3)" fill="#fff" stroke="#1c1c1c" stroke-width="1.0" />
<ellipse cx="684.5" cy="238.5" rx="30.5" ry="48" transform="rotate(-10 684.5 238.5)" fill="#fff" stroke="#1c1c1c" stroke-width="1.5" />
<ellipse cx="683" cy="238.8" rx="29" ry="46.5" transform="rotate(-10 683 238.8)" fill="none" stroke="#1c1c1c" stroke-width="1.0" />
<ellipse cx="680.5" cy="239.2" rx="27" ry="44.5" transform="rotate(-10 680.5 239.2)" fill="none" stroke="#1c1c1c" stroke-width="1.2" />
<ellipse cx="678.5" cy="239.5" rx="24.5" ry="42" transform="rotate(-10 678.5 239.5)" fill="none" stroke="#1c1c1c" stroke-width="1.0" />
<path d="M627.6 226.5 L660.8 219 Q671 231 671.5 245 Q671 258 666 265.6 L635 273 Z" fill="#fff" stroke="#1c1c1c" stroke-width="1.3" />
<path d="M652.4 221.0 L654.1 221.6 L655.8 222.6 L657.4 223.9 L658.9 225.5 L660.3 227.4 L661.6 229.4 L662.7 231.7 L663.7 234.2 L664.5 236.8 L665.1 239.5 L665.5 242.3 L665.7 245.0 L665.7 247.7 L665.5 250.4 L665.1 253.0 L664.4 255.3 L663.6 257.6 L662.6 259.5 L661.5 261.3 L660.2 262.7 L658.7 263.9 L657.2 264.7 L655.6 265.2 L654.0 265.4 " fill="none" stroke="#1c1c1c" stroke-width="1.0" />
<path d="M641.9 223.6 L670.9 214.6 L669.1 208.4 L640.1 217.4 Z" fill="#fff" stroke="#1c1c1c" stroke-width="1.2" />
<ellipse cx="641" cy="220.5" rx="1.7600000000000002" ry="3.2" transform="rotate(-10 641 220.5)" fill="#fff" stroke="#1c1c1c" stroke-width="1.2" />
<path d="M659.6 261.0 L688.6 253.6 L686.8 246.4 L657.8 253.8 Z" fill="#fff" stroke="#1c1c1c" stroke-width="1.2" />
<ellipse cx="658.7" cy="257.4" rx="2.035" ry="3.7" transform="rotate(-10 658.7 257.4)" fill="#fff" stroke="#1c1c1c" stroke-width="1.2" />
<ellipse cx="630" cy="249.5" rx="14" ry="23.3" transform="rotate(-8 630 249.5)" fill="#fff" stroke="#1c1c1c" stroke-width="1.7" />
<ellipse cx="631" cy="249.5" rx="12.2" ry="21.3" transform="rotate(-8 631 249.5)" fill="none" stroke="#1c1c1c" stroke-width="1.1" />
<path d="M633.5 228.5 L637 231.5 M641 259 L644.5 256 M632.5 270.5 L636 266" fill="none" stroke="#1c1c1c" stroke-width="1.1" />
<path d="M627 263.5 L643 259.5 M633 268.8 L650 264.5" fill="none" stroke="#1c1c1c" stroke-width="1.1" />
<ellipse cx="650.6" cy="244" rx="27" ry="46.3" transform="rotate(-10 650.6 244)" fill="none" stroke="#1c1c1c" stroke-width="3.0" />
<ellipse cx="714.6" cy="226.5" rx="2.9" ry="5" transform="rotate(-8 714.6 226.5)" fill="none" stroke="#1c1c1c" stroke-width="1.9" />
<ellipse cx="739" cy="220.4" rx="6.3" ry="10" transform="rotate(-10 739 220.4)" fill="#fff" stroke="#1c1c1c" stroke-width="1.7" />
<path d="M722 220 L737.8 216.2 Q741 220 739.5 225.2 L723.5 228.4 Z" fill="#fff" stroke="#1c1c1c" stroke-width="1.4" />
<ellipse cx="722.7" cy="224.2" rx="2.5" ry="4.3" transform="rotate(-10 722.7 224.2)" fill="#fff" stroke="#1c1c1c" stroke-width="1.5" />
<path d="M934 127 Q947 119.5 960 122.6 Q977 135 977 158 Q976 182 968 194 Q958 205 944 207 Z" fill="#fff" stroke="#1c1c1c" stroke-width="1.3" />
<path d="M943 125.4 Q962 135 964.4 160.7 Q964 185 953 200" fill="none" stroke="#1c1c1c" stroke-width="1.1" />
<clipPath id="mb"><path d="M858 172 L932 131 Q950 150 950.3 171 Q950 190 941.5 206.5 L866 224 Z"/></clipPath>
<path d="M858 172 L932 131 Q950 150 950.3 171 Q950 190 941.5 206.5 L866 224 Z" fill="#fff" stroke="#1c1c1c" stroke-width="1.2" />
<g clip-path="url(#mb)"><line x1="858" y1="160.0" x2="952" y2="132.9" stroke="#1c1c1c" stroke-width="1.35"/><line x1="858" y1="163.4" x2="952" y2="136.3" stroke="#1c1c1c" stroke-width="1.35"/><line x1="858" y1="166.8" x2="952" y2="139.7" stroke="#1c1c1c" stroke-width="1.35"/><line x1="858" y1="170.2" x2="952" y2="143.1" stroke="#1c1c1c" stroke-width="1.35"/><line x1="858" y1="173.6" x2="952" y2="146.5" stroke="#1c1c1c" stroke-width="1.35"/><line x1="858" y1="177.0" x2="952" y2="149.9" stroke="#1c1c1c" stroke-width="1.35"/><line x1="858" y1="180.4" x2="952" y2="153.3" stroke="#1c1c1c" stroke-width="1.35"/><line x1="858" y1="183.8" x2="952" y2="156.7" stroke="#1c1c1c" stroke-width="1.35"/><line x1="858" y1="187.2" x2="952" y2="160.1" stroke="#1c1c1c" stroke-width="1.35"/><line x1="858" y1="190.6" x2="952" y2="163.5" stroke="#1c1c1c" stroke-width="1.35"/><line x1="858" y1="194.0" x2="952" y2="166.9" stroke="#1c1c1c" stroke-width="1.35"/><line x1="858" y1="197.4" x2="952" y2="170.3" stroke="#1c1c1c" stroke-width="1.35"/><line x1="858" y1="200.8" x2="952" y2="173.7" stroke="#1c1c1c" stroke-width="1.35"/><line x1="858" y1="204.2" x2="952" y2="177.1" stroke="#1c1c1c" stroke-width="1.35"/><line x1="858" y1="207.6" x2="952" y2="180.5" stroke="#1c1c1c" stroke-width="1.35"/><line x1="858" y1="211.0" x2="952" y2="183.9" stroke="#1c1c1c" stroke-width="1.35"/><line x1="858" y1="214.4" x2="952" y2="187.3" stroke="#1c1c1c" stroke-width="1.35"/><line x1="858" y1="217.8" x2="952" y2="190.7" stroke="#1c1c1c" stroke-width="1.35"/><line x1="858" y1="221.2" x2="952" y2="194.1" stroke="#1c1c1c" stroke-width="1.35"/><line x1="858" y1="224.6" x2="952" y2="197.5" stroke="#1c1c1c" stroke-width="1.35"/><line x1="858" y1="228.0" x2="952" y2="200.9" stroke="#1c1c1c" stroke-width="1.35"/><line x1="858" y1="231.4" x2="952" y2="204.3" stroke="#1c1c1c" stroke-width="1.35"/></g>
<path d="M880 196 L897 191.5 L898.5 196.5 L881.5 201.5 Z" fill="#fff" stroke="#1c1c1c" stroke-width="1.0" />
<path d="M913 188.5 L930 184 L931.5 189 L914.5 194 Z" fill="#fff" stroke="#1c1c1c" stroke-width="1.0" />
<path d="M899 199.5 L913 196" fill="none" stroke="#1c1c1c" stroke-width="2.2" />
<path d="M930.5 131 Q949 148 950.3 171 Q950 191 941.8 206.3" fill="none" stroke="#1c1c1c" stroke-width="1.5" />
<path d="M927.5 132.5 Q946 150 947.3 172 Q947 192 938.8 207" fill="none" stroke="#1c1c1c" stroke-width="1.5" />
<path d="M933.5 129.5 Q952 147 953.3 170 Q953 190 944.8 205.5" fill="none" stroke="#1c1c1c" stroke-width="1.0" />
<ellipse cx="911" cy="223.2" rx="11.5" ry="5.2" transform="rotate(-4 911 223.2)" fill="#fff" stroke="#1c1c1c" stroke-width="2.0" />
<path d="M903.5 222 Q911 216.5 918.5 221 M905 225.5 L911 220.5 L917 224.5 M911 220.5 L911 227" fill="none" stroke="#1c1c1c" stroke-width="2.0" />
<ellipse cx="911" cy="219.5" rx="3.2" ry="1.7" fill="#333" stroke="#1c1c1c" stroke-width="1.0" />
<path d="M889.2 224.8 L893.5 224 L894.6 231.6 L890.3 232.5 Z" fill="#fff" stroke="#1c1c1c" stroke-width="1.2" />
<ellipse cx="889.8" cy="228.7" rx="1.9" ry="3.9" transform="rotate(-8 889.8 228.7)" fill="#555" stroke="#1c1c1c" stroke-width="1.0" />
<ellipse cx="894" cy="227.8" rx="1.9" ry="3.9" transform="rotate(-8 894 227.8)" fill="#fff" stroke="#1c1c1c" stroke-width="1.1" />
<line x1="857" y1="237" x2="887" y2="229.3" stroke="#1c1c1c" stroke-width="1.1" stroke-dasharray="9 2 1.5 2"/>
<path d="M848 145.4 L868 155 L868 166 L874 168.5 L911 157 L911 147 L927 141 L927 132 L868 140 Z" fill="#fff" stroke="#1c1c1c" stroke-width="1.2" />
<path d="M868 155 L911 142.5 L911 147" fill="none" stroke="#1c1c1c" stroke-width="1.2" />
<path d="M874 168.5 L874 158" fill="none" stroke="#1c1c1c" stroke-width="1.0" />
<rect x="874.5" y="158.2" width="9" height="4.6" rx="2.3" transform="rotate(-16 879 160.5)" fill="#fff" stroke="#1c1c1c" stroke-width="1.2"/>
<rect x="899" y="151" width="9" height="4.6" rx="2.3" transform="rotate(-16 903.5 153.3)" fill="#fff" stroke="#1c1c1c" stroke-width="1.2"/>
<path d="M913 146.5 L926 142.3 L926 146 L913 150.5 Z" fill="#fff" stroke="#1c1c1c" stroke-width="1.0" />
<path d="M829.7 118 L831.3 131 L848 142 L867.1 152.5 L927 139.5 L929.5 138.5 L931.5 119.4 L867.1 135 Z" fill="#fff" stroke="#1c1c1c" stroke-width="1.4" />
<path d="M831.3 131 L867.1 152.5 L929.5 138.5" fill="none" stroke="#1c1c1c" stroke-width="2.2" />
<path d="M867.1 135 L867.1 152.5" fill="none" stroke="#1c1c1c" stroke-width="1.4" />
<path d="M828.4 107.4 Q828 105 831 104 L889.5 88.3 Q892.5 87.6 895 89 L930.5 108 Q932.6 109.5 932.3 112 L931.5 120.4 L867.1 135 L829.6 118 Z" fill="#fff" stroke="#1c1c1c" stroke-width="1.8" />
<path d="M828.8 109.5 L867.1 126.8 L932 112" fill="none" stroke="#1c1c1c" stroke-width="1.4" />
<path d="M867.1 126.8 L867.1 135" fill="none" stroke="#1c1c1c" stroke-width="1.4" />
<path d="M830 113 L867.1 130.6 L931.8 116" fill="none" stroke="#1c1c1c" stroke-width="1.0" />
<path d="M846.4 104.5 L894.4 92.2 L925.5 108.3 L870 120.8 Z" fill="none" stroke="#1c1c1c" stroke-width="1.3" />
<path d="M834 106.5 L866.5 121.6" fill="none" stroke="#222" stroke-width="3.0" />
<path d="M838.9 109.7 L842.1 111.1" fill="none" stroke="#fff" stroke-width="1.7" />
<path d="M846.4 113.2 L849.6 114.6" fill="none" stroke="#fff" stroke-width="1.7" />
<path d="M853.9 116.7 L857.1 118.1" fill="none" stroke="#fff" stroke-width="1.7" />
<path d="M861.0 120.0 L864.2 121.4" fill="none" stroke="#fff" stroke-width="1.7" />
<path d="M896 90.6 L927 107" fill="none" stroke="#222" stroke-width="2.8" />
<path d="M902.2 93.9 L905.2 95.5" fill="none" stroke="#fff" stroke-width="1.6" />
<path d="M910.0 98.0 L913.0 99.6" fill="none" stroke="#fff" stroke-width="1.6" />
<path d="M917.8 102.1 L920.8 103.7" fill="none" stroke="#fff" stroke-width="1.6" />
<path d="M822 137.5 L826.5 134 L841 136.5 L846.5 141 L846.5 146 L838 149 Z" fill="#fff" stroke="#1c1c1c" stroke-width="1.2" />
<path d="M826.5 134 L826.5 138.5 L838.5 141.5 L838.5 149 M838.5 141.5 L846.5 141" fill="none" stroke="#1c1c1c" stroke-width="1.0" />
<path d="M766 232.5 L777 222 L790 226 L796 240 L788 243 L766 236.5 Z" fill="#fff" stroke="#1c1c1c" stroke-width="1.3" />
<path d="M766 236.5 L766 232.5 L788 239 L796 236 M788 239 L788 243" fill="none" stroke="#1c1c1c" stroke-width="1.1" />
<path d="M777 222 L782 232 L789 234" fill="none" stroke="#1c1c1c" stroke-width="1.0" />
<path d="M784 131.5 Q790 129.5 795 131 L851 160.5 Q858 164 860 172 L866 250 Q866 258 859 260.5 L846 263.5 L838 240 L800 150 Z" fill="#fff" stroke="#1c1c1c" stroke-width="1.3" />
<path d="M831 272 L842 258 L860 254 L871 262 L871 266.5 L838 276.5 L831 275.5 Z" fill="#fff" stroke="#1c1c1c" stroke-width="1.3" />
<path d="M831 272 L838 273 L871 262.5 M838 273 L838 276.5 M847 259 L851 268 M858 256 L861.5 265" fill="none" stroke="#1c1c1c" stroke-width="1.1" />
<path d="M776.3 146 Q776 136 783 133.5 Q788 131.5 793 134 L843 160.5 Q851 165 853 174 L858.5 248 Q859 257 852 259.5 L843 262 Q838 263 833 260 L783 229 Q777.5 225 777.2 218 Z" fill="#fff" stroke="#1c1c1c" stroke-width="1.5" />
<path d="M780 148 Q780 140 785 138 Q789 136.5 793 138.5 L840 163.5 Q847 167.5 849 176 L854 246 Q854.5 253 849 255.5 L842 257.5 Q838 258.5 834 256 L786 226.5 Q781.5 223 781.2 217 Z" fill="none" stroke="#1c1c1c" stroke-width="1.0" />
<ellipse cx="814.3" cy="199" rx="31.3" ry="49.5" transform="rotate(-11 814.3 199)" fill="#fff" stroke="#1c1c1c" stroke-width="1.6" />
<ellipse cx="815" cy="199" rx="27.8" ry="45.5" transform="rotate(-11 815 199)" fill="#fff" stroke="#1c1c1c" stroke-width="1.4" />
<path d="M784 147 L786 140.5 L791 145 Z M796 139.5 L808 145 L800 148 Z M843 170 L846 182 L839 176 Z M848 196 L850.5 212 L846.5 208 Z" fill="none" stroke="#1c1c1c" stroke-width="1.0" />
<path d="M783 214 L785 223 L789 220 Z M838 248 L846 252 L845 243 Z M849 232 L851.5 246 L847 240 Z" fill="none" stroke="#1c1c1c" stroke-width="1.0" />
<ellipse cx="786.5" cy="152" rx="1.3" ry="1.8" fill="none" stroke="#1c1c1c" stroke-width="1.0" />
<ellipse cx="846.8" cy="188.5" rx="1.3" ry="1.8" fill="none" stroke="#1c1c1c" stroke-width="1.0" />
<ellipse cx="836" cy="252.5" rx="1.3" ry="1.8" fill="none" stroke="#1c1c1c" stroke-width="1.0" />
<clipPath id="op"><ellipse cx="815" cy="199" rx="27.2" ry="44.8" transform="rotate(-11 815 199)"/></clipPath>
<g clip-path="url(#op)" fill="#fff" stroke="#1c1c1c" stroke-width="1.45"><path d="M797 166 L806 160 L813 163.5 L817 176 L825 172 L832 177 L836 189 L826 194 L816 190 L811 180 L803 183 Z"/><path d="M806 160 L808 168 L803 171.5 M817 176 L818.5 184 M813 163.5 L822 160 L832 164 L836 176 L832 177 M808 168 L816 165 L817 176" fill="none"/><path d="M803 213 L812 208 L822 212 L826 222 L834 218.5 L841 224 L843 236 L834 241 L826 236 L822 227 L813 231 L807 226 Z"/><path d="M812 208 L813.5 216 L808 219.5 M826 222 L827 230 M822 212 L830 207 L840 211 L843 222 L841 224 M813.5 216 L822 212" fill="none"/><path d="M806 190.5 L842 181.5 L843.5 186.5 L807.5 196 Z"/><path d="M803 204 L846 193 L847 198 L804.5 209.5 Z"/><path d="M790 196 L800 193 L801 205 L791 208 Z"/></g>
<path d="M760.5 210.3 L816 196.3 L817.2 201 L761.7 215.3 Z" fill="#fff" stroke="#1c1c1c" stroke-width="1.4" />
<path d="M760.5 210.3 L773.5 207 L774.7 212 L761.7 215.3 Z" fill="#555" stroke="#1c1c1c" stroke-width="1.2" />
<line x1="763.5" y1="209.575" x2="764.6" y2="213.975" stroke="#1c1c1c" stroke-width="0.8" />
<line x1="766" y1="208.95" x2="767.1" y2="213.35" stroke="#1c1c1c" stroke-width="0.8" />
<line x1="768.5" y1="208.325" x2="769.6" y2="212.725" stroke="#1c1c1c" stroke-width="0.8" />
<line x1="771" y1="207.7" x2="772.1" y2="212.1" stroke="#1c1c1c" stroke-width="0.8" />
<path d="M792 202.3 L793.2 207.2" fill="none" stroke="#1c1c1c" stroke-width="1.0" />
<line x1="750.5" y1="216.3" x2="760" y2="213.8" stroke="#1c1c1c" stroke-width="1.2" stroke-dasharray="8 2 1.5 2"/>
<line x1="148" y1="101" x2="188.5" y2="101.0" stroke="#1c1c1c" stroke-width="1.15" />
<polygon points="198.0,101.0 186.5,103.3 186.5,98.7" fill="#1c1c1c"/>
<line x1="148" y1="132.5" x2="194.5" y2="132.5" stroke="#1c1c1c" stroke-width="1.15" />
<polygon points="204.0,132.5 192.5,134.8 192.5,130.2" fill="#1c1c1c"/>
<line x1="148" y1="200" x2="199.50127628132503" y2="199.15571678227337" stroke="#1c1c1c" stroke-width="1.15" />
<polygon points="209.0,199.0 197.5,201.5 197.5,196.9" fill="#1c1c1c"/>
<line x1="162" y1="280" x2="188.5" y2="280.0" stroke="#1c1c1c" stroke-width="1.15" />
<polygon points="198.0,280.0 186.5,282.3 186.5,277.7" fill="#1c1c1c"/>
<line x1="315" y1="68.5" x2="315.0" y2="96.5" stroke="#1c1c1c" stroke-width="1.15" />
<polygon points="315.0,106.0 312.7,94.5 317.3,94.5" fill="#1c1c1c"/>
<line x1="75.4" y1="261.4" x2="88.04139158908852" y2="299.97245125901367" stroke="#1c1c1c" stroke-width="1.15" />
<polygon points="91.0,309.0 85.2,298.8 89.6,297.4" fill="#1c1c1c"/>
<line x1="177" y1="462" x2="172.1209459369421" y2="447.97271956870856" stroke="#1c1c1c" stroke-width="1.15" />
<polygon points="169.0,439.0 175.0,449.1 170.6,450.6" fill="#1c1c1c"/>
<line x1="388" y1="123" x2="408.641011019704" y2="185.97257599231725" stroke="#1c1c1c" stroke-width="1.15" />
<polygon points="411.6,195.0 405.8,184.8 410.2,183.4" fill="#1c1c1c"/>
<line x1="449" y1="113" x2="461.21921441510597" y2="152.9161004226794" stroke="#1c1c1c" stroke-width="1.15" />
<polygon points="464.0,162.0 458.4,151.7 462.8,150.3" fill="#1c1c1c"/>
<line x1="499" y1="370" x2="488.4264055345005" y2="336.0698088047403" stroke="#1c1c1c" stroke-width="1.15" />
<polygon points="485.6,327.0 491.2,337.3 486.8,338.7" fill="#1c1c1c"/>
<line x1="553.6" y1="352" x2="545.295369407486" y2="326.04802939839357" stroke="#1c1c1c" stroke-width="1.15" />
<polygon points="542.4,317.0 548.1,327.3 543.7,328.7" fill="#1c1c1c"/>
<line x1="450" y1="386" x2="441.1951957714825" y2="361.3465481601509" stroke="#1c1c1c" stroke-width="1.15" />
<polygon points="438.0,352.4 444.0,362.5 439.7,364.0" fill="#1c1c1c"/>
<line x1="554" y1="166" x2="575.2061844360436" y2="234.92009941714147" stroke="#1c1c1c" stroke-width="1.15" />
<polygon points="578.0,244.0 572.4,233.7 576.8,232.3" fill="#1c1c1c"/>
<line x1="621.6" y1="149" x2="634.0977934305306" y2="187.95416134191368" stroke="#1c1c1c" stroke-width="1.15" />
<polygon points="637.0,197.0 631.3,186.8 635.7,185.3" fill="#1c1c1c"/>
<line x1="652" y1="140.4" x2="665.0292775063407" y2="179.97643042550973" stroke="#1c1c1c" stroke-width="1.15" />
<polygon points="668.0,189.0 662.2,178.8 666.6,177.4" fill="#1c1c1c"/>
<line x1="697" y1="172.4" x2="708.0339974344511" y2="205.97487790768693" stroke="#1c1c1c" stroke-width="1.15" />
<polygon points="711.0,215.0 705.2,204.8 709.6,203.4" fill="#1c1c1c"/>
<line x1="706.4" y1="126.4" x2="730.1195652558689" y2="200.94720508987402" stroke="#1c1c1c" stroke-width="1.15" />
<polygon points="733.0,210.0 727.3,199.7 731.7,198.3" fill="#1c1c1c"/>
<line x1="618" y1="418" x2="608" y2="396" stroke="#1c1c1c" stroke-width="1.25" />
<circle cx="134" cy="101.4" r="13.7" fill="#fff" stroke="#333" stroke-width="1.15"/>
<text x="134" y="107.2" text-anchor="middle" font-size="15.6" fill="#111" stroke="#111" stroke-width="0.4">17</text>
<circle cx="134" cy="133.4" r="13.7" fill="#fff" stroke="#333" stroke-width="1.15"/>
<text x="134" y="139.20000000000002" text-anchor="middle" font-size="15.6" fill="#111" stroke="#111" stroke-width="0.4">16</text>
<circle cx="134.3" cy="200.5" r="13.7" fill="#fff" stroke="#333" stroke-width="1.15"/>
<text x="134.3" y="206.3" text-anchor="middle" font-size="15.6" fill="#111" stroke="#111" stroke-width="0.4">15</text>
<circle cx="148" cy="281" r="13.7" fill="#fff" stroke="#333" stroke-width="1.15"/>
<text x="148" y="286.8" text-anchor="middle" font-size="15.6" fill="#111" stroke="#111" stroke-width="0.4">14</text>
<circle cx="315" cy="54.7" r="13.7" fill="#fff" stroke="#333" stroke-width="1.15"/>
<text x="315" y="60.5" text-anchor="middle" font-size="15.6" fill="#111" stroke="#111" stroke-width="0.4">13</text>
<circle cx="71.2" cy="248.6" r="13.7" fill="#fff" stroke="#333" stroke-width="1.15"/>
<text x="71.2" y="254.4" text-anchor="middle" font-size="15.6" fill="#111" stroke="#111" stroke-width="0.4">13</text>
<circle cx="184" cy="474" r="13.7" fill="#fff" stroke="#333" stroke-width="1.15"/>
<text x="184" y="479.8" text-anchor="middle" font-size="15.6" fill="#111" stroke="#111" stroke-width="0.4">12</text>
<circle cx="382" cy="109.6" r="13.7" fill="#fff" stroke="#333" stroke-width="1.15"/>
<text x="382" y="115.39999999999999" text-anchor="middle" font-size="15.6" fill="#111" stroke="#111" stroke-width="0.4">9</text>
<circle cx="442.4" cy="100" r="13.7" fill="#fff" stroke="#333" stroke-width="1.15"/>
<text x="442.4" y="105.8" text-anchor="middle" font-size="15.6" fill="#111" stroke="#111" stroke-width="0.4">8</text>
<circle cx="506" cy="382" r="13.7" fill="#fff" stroke="#333" stroke-width="1.15"/>
<text x="506" y="387.8" text-anchor="middle" font-size="15.6" fill="#111" stroke="#111" stroke-width="0.4">8</text>
<circle cx="559" cy="364.4" r="13.7" fill="#fff" stroke="#333" stroke-width="1.15"/>
<text x="559" y="370.2" text-anchor="middle" font-size="15.6" fill="#111" stroke="#111" stroke-width="0.4">7</text>
<circle cx="456" cy="399" r="13.7" fill="#fff" stroke="#333" stroke-width="1.15"/>
<text x="456" y="404.8" text-anchor="middle" font-size="15.6" fill="#111" stroke="#111" stroke-width="0.4">10</text>
<circle cx="548" cy="153" r="13.7" fill="#fff" stroke="#333" stroke-width="1.15"/>
<text x="548" y="158.8" text-anchor="middle" font-size="15.6" fill="#111" stroke="#111" stroke-width="0.4">6</text>
<circle cx="615.6" cy="135" r="13.7" fill="#fff" stroke="#333" stroke-width="1.15"/>
<text x="615.6" y="140.8" text-anchor="middle" font-size="15.6" fill="#111" stroke="#111" stroke-width="0.4">5</text>
<circle cx="646.4" cy="127" r="13.7" fill="#fff" stroke="#333" stroke-width="1.15"/>
<text x="646.4" y="132.8" text-anchor="middle" font-size="15.6" fill="#111" stroke="#111" stroke-width="0.4">4</text>
<circle cx="691" cy="158.6" r="13.7" fill="#fff" stroke="#333" stroke-width="1.15"/>
<text x="691" y="164.4" text-anchor="middle" font-size="15.6" fill="#111" stroke="#111" stroke-width="0.4">3</text>
<circle cx="700.4" cy="113" r="13.7" fill="#fff" stroke="#333" stroke-width="1.15"/>
<text x="700.4" y="118.8" text-anchor="middle" font-size="15.6" fill="#111" stroke="#111" stroke-width="0.4">2</text>
<circle cx="624" cy="431" r="13.7" fill="#fff" stroke="#333" stroke-width="1.15"/>
<text x="624" y="436.8" text-anchor="middle" font-size="15.6" fill="#111" stroke="#111" stroke-width="0.4">11</text>
<rect x="33.5" y="312.0" width="134" height="70" rx="35.0" ry="35.0" transform="rotate(-13.5 100.5 347)" fill="none" stroke="#3a3a3a" stroke-width="1.7" stroke-dasharray="5.5 3"/>
<rect x="127.25" y="395.75" width="65.5" height="38.5" rx="19.25" ry="19.25" transform="rotate(-12.5 160 415)" fill="none" stroke="#3a3a3a" stroke-width="1.7" stroke-dasharray="5.5 3"/>
<rect x="241.60000000000002" y="413.5" width="48" height="27" rx="13.5" ry="13.5" transform="rotate(-10 265.6 427)" fill="none" stroke="#3a3a3a" stroke-width="1.7" stroke-dasharray="5.5 3"/>
<rect x="390.5" y="194.45" width="53" height="32.5" rx="16.25" ry="16.25" transform="rotate(-12 417 210.7)" fill="none" stroke="#3a3a3a" stroke-width="1.7" stroke-dasharray="5.5 3"/>
<rect x="557.5" y="245.8" width="58" height="32" rx="16.0" ry="16.0" transform="rotate(-11.5 586.5 261.8)" fill="none" stroke="#3a3a3a" stroke-width="1.7" stroke-dasharray="5.5 3"/>
<path d="M272.8 445 L276.6 455 C279 466 284 474 292 477.5 C299 480.5 308 481.5 318 478.5 L865 318 Q905 303 903 270 Q901 250 895.5 236" fill="none" stroke="#1c1c1c" stroke-width="1.2" stroke-dasharray="16 2 2 2"/>
<polygon points="272.6,443 275.5,453.5 270.5,454.5" fill="#1c1c1c"/>
<polygon points="895,235 899.5,245 894.5,246.5" fill="#1c1c1c"/>
</svg>
</body></html>
